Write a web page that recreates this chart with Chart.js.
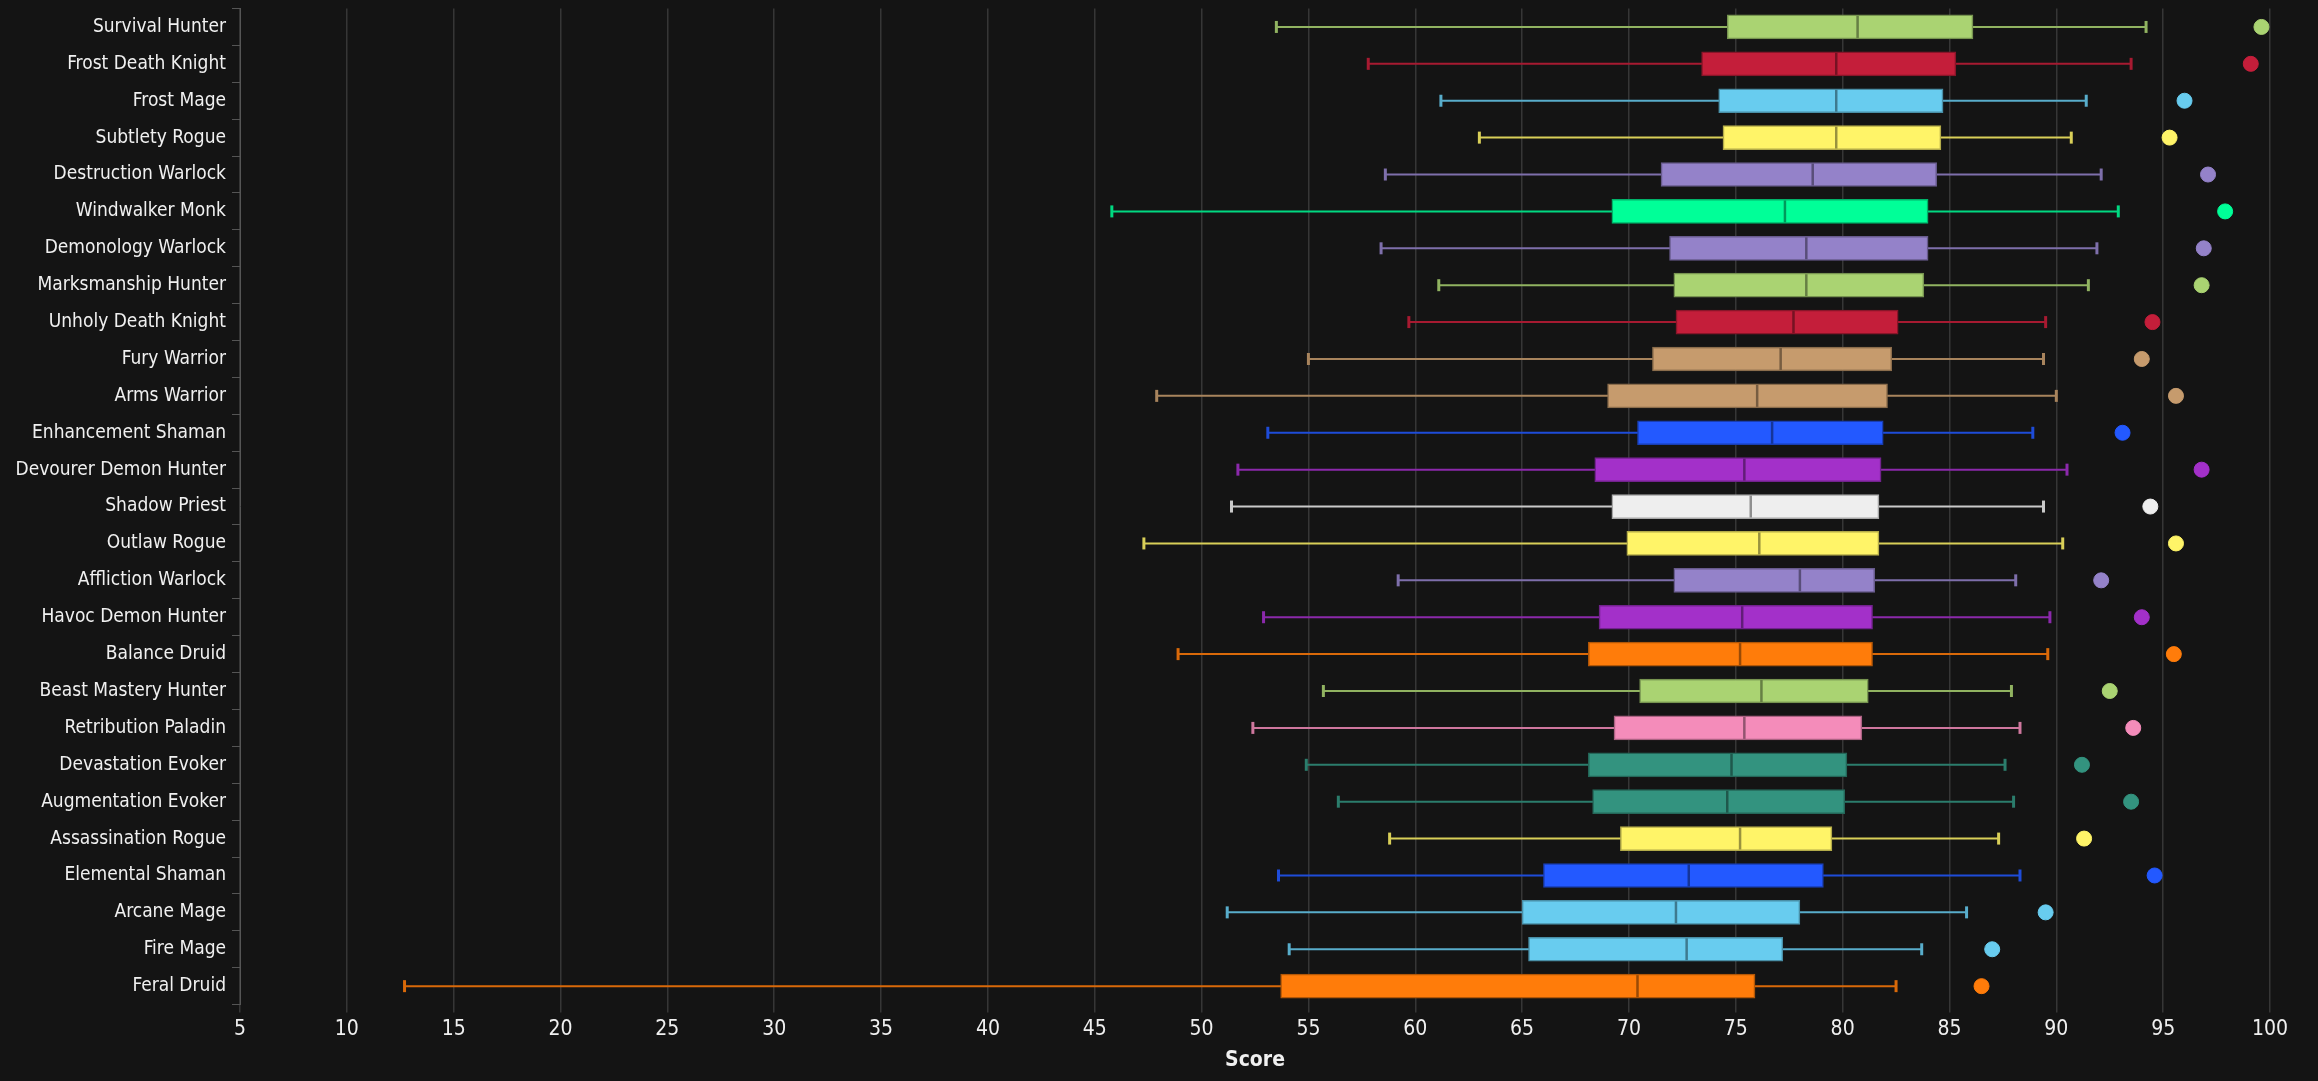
<!DOCTYPE html>
<html><head><meta charset="utf-8">
<script src="https://cdn.jsdelivr.net/npm/chart.js@4"></script>
<style>html,body{margin:0;padding:0;background:#141414;}#wrap{width:2318px;height:1081px;}</style>
</head><body><div id="wrap"><canvas id="c"></canvas></div>
<script>
const specs = ["Survival Hunter","Frost Death Knight","Frost Mage","Subtlety Rogue","Destruction Warlock","Windwalker Monk","Demonology Warlock","Marksmanship Hunter","Unholy Death Knight","Fury Warrior","Arms Warrior","Enhancement Shaman","Devourer Demon Hunter","Shadow Priest","Outlaw Rogue","Affliction Warlock","Havoc Demon Hunter","Balance Druid","Beast Mastery Hunter","Retribution Paladin","Devastation Evoker","Augmentation Evoker","Assassination Rogue","Elemental Shaman","Arcane Mage","Fire Mage","Feral Druid"];
const mins = [53.5,57.8,61.2,63.0,58.6,45.8,58.4,61.1,59.7,55.0,47.9,53.1,51.7,51.4,47.3,59.2,52.9,48.9,55.7,52.4,54.9,56.4,58.8,53.6,51.2,54.1,12.7];
const q1s = [74.6,73.4,74.2,74.4,71.5,69.2,71.9,72.1,72.2,71.1,69.0,70.4,68.4,69.2,69.9,72.1,68.6,68.1,70.5,69.3,68.1,68.3,69.6,66.0,65.0,65.3,53.7];
const medians = [80.7,79.7,79.7,79.7,78.6,77.3,78.3,78.3,77.7,77.1,76.0,76.7,75.4,75.7,76.1,78.0,75.3,75.2,76.2,75.4,74.8,74.6,75.2,72.8,72.2,72.7,70.4];
const q3s = [86.1,85.3,84.7,84.6,84.4,84.0,84.0,83.8,82.6,82.3,82.1,81.9,81.8,81.7,81.7,81.5,81.4,81.4,81.2,80.9,80.2,80.1,79.5,79.1,78.0,77.2,75.9];
const maxs = [94.2,93.5,91.4,90.7,92.1,92.9,91.9,91.5,89.5,89.4,90.0,88.9,90.5,89.4,90.3,88.1,89.7,89.6,87.9,88.3,87.6,88.0,87.3,88.3,85.8,83.7,82.5];
const dots = [99.6,99.1,96.0,95.3,97.1,97.9,96.9,96.8,94.5,94.0,95.6,93.1,96.8,94.4,95.6,92.1,94.0,95.5,92.5,93.6,91.2,93.5,91.3,94.6,89.5,87.0,86.5];
const classColors = {Hunter:"#AAD372",DK:"#C41E3A",Mage:"#68CCEF",Rogue:"#FFF468",Warlock:"#9482C9",Monk:"#00FF98",Warrior:"#C69B6D",Shaman:"#2359FF",DH:"#A330C9",Priest:"#EEEEEE",Druid:"#FF7C0A",Paladin:"#F48CBA",Evoker:"#33937F"};
const specClass = ["Hunter","DK","Mage","Rogue","Warlock","Monk","Warlock","Hunter","DK","Warrior","Warrior","Shaman","DH","Priest","Rogue","Warlock","DH","Druid","Hunter","Paladin","Evoker","Evoker","Rogue","Shaman","Mage","Mage","Druid"];
const colors = specClass.map(c=>classColors[c]);
const xTicks = [5,10,15,20,25,30,35,40,45,50,55,60,65,70,75,80,85,90,95,100];
const FONT = "'Liberation Sans Narrow','DejaVu Sans Condensed','Roboto',sans-serif";

function shade(hex,f){const n=parseInt(hex.slice(1),16);let r=n>>16,g=(n>>8)&255,b=n&255;return `rgb(${Math.round(r*f)},${Math.round(g*f)},${Math.round(b*f)})`;}

const boxPlugin = {
  id:'boxParts',
  beforeDatasetsDraw(chart){
    const {ctx,scales:{x,y}}=chart;
    ctx.save();
    specs.forEach((s,i)=>{
      const py=y.getPixelForValue(i);
      ctx.strokeStyle=shade(colors[i],0.85);
      ctx.lineWidth=2;
      ctx.beginPath();
      ctx.moveTo(x.getPixelForValue(mins[i]),py);ctx.lineTo(x.getPixelForValue(maxs[i]),py);
      ctx.stroke();
      ctx.lineWidth=3;
      [mins[i],maxs[i]].forEach(v=>{const px=x.getPixelForValue(v);ctx.beginPath();ctx.moveTo(px,py-6);ctx.lineTo(px,py+6);ctx.stroke();});
    });
    ctx.restore();
  },
  afterDatasetsDraw(chart){
    const {ctx,scales:{x,y}}=chart;
    ctx.save();
    specs.forEach((s,i)=>{
      const py=y.getPixelForValue(i);
      const px=x.getPixelForValue(medians[i]);
      ctx.strokeStyle=shade(colors[i],0.6);
      ctx.lineWidth=2.5;
      ctx.beginPath();ctx.moveTo(px,py-11);ctx.lineTo(px,py+11);ctx.stroke();
    });
    ctx.restore();
  }
};

new Chart(document.getElementById('c'),{
  data:{
    labels:specs,
    datasets:[
      {type:'bar',data:specs.map((s,i)=>[q1s[i],q3s[i]]),backgroundColor:colors,borderColor:colors.map(c=>shade(c,0.7)),borderWidth:1.5,borderSkipped:false,barThickness:24,grouped:false},
      {type:'scatter',data:specs.map((s,i)=>({x:dots[i],y:s})),backgroundColor:colors,borderColor:colors,pointRadius:7.5,pointHoverRadius:7.5}
    ]
  },
  options:{
    indexAxis:'y',
    responsive:true,maintainAspectRatio:false,animation:false,
    layout:{padding:{top:3,right:48,left:0,bottom:4}},
    plugins:{legend:{display:false},tooltip:{enabled:false}},
    scales:{
      x:{type:'linear',min:5,max:100,
        afterBuildTicks(a){a.ticks=xTicks.map(v=>({value:v}));},
        grid:{color:'#363636',lineWidth:1.5,tickLength:8,drawTicks:true},
        border:{display:false},
        ticks:{color:'#f0f0f0',font:{family:FONT,size:21},padding:4},
        title:{display:true,text:'Score',color:'#f0f0f0',font:{family:FONT,size:21,weight:'bold'},padding:{top:2}}
      },
      y:{type:'category',
        afterFit(a){a.width=240;a.paddingTop=0;a.paddingBottom=0;},
        grid:{display:true,drawOnChartArea:false,offset:true,color:'#555',tickLength:8},
        border:{display:true,color:'#555'},
        ticks:{color:'#f0f0f0',font:{family:FONT,size:19},padding:6}
      }
    }
  },
  plugins:[boxPlugin]
});
</script></body></html>
